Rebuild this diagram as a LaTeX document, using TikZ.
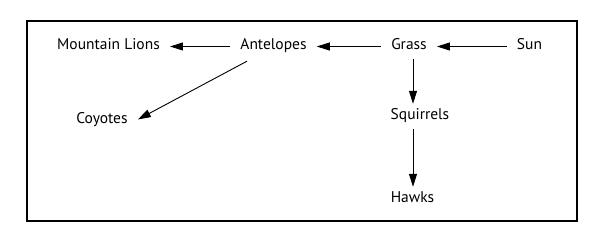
\documentclass[tikz,border=0pt]{standalone}
\usepackage{fontspec}
\setmainfont{PT Sans}
\usetikzlibrary{arrows.meta}
\begin{document}
\begin{tikzpicture}[x=1pt,y=-1pt,
  lbl/.style={font=\fontsize{15.5}{18}\selectfont, anchor=base, inner xsep=10pt, inner ysep=6pt, text height=10pt, text depth=3pt},
  arr/.style={line width=0.9pt, -{Triangle[length=13pt,width=8pt]}},
  frame/.style={line width=1.6pt}]
\useasboundingbox (0,0) rectangle (600,251);
\draw[frame] (27,21) rectangle (577,221);
\node[lbl] (ml) at (108.5,50) {Mountain Lions};
\node[lbl] (ant) at (273.5,50) {Antelopes};
\node[lbl] (grass) at (409,50) {Grass};
\node[lbl] (sun) at (529.5,50) {Sun};
\node[lbl] (sq) at (420,120) {Squirrels};
\node[lbl] (hawks) at (412.5,203) {Hawks};
\node[lbl] (coy) at (102,124) {Coyotes};
\draw[arr] (sun) -- (grass);
\draw[arr] (grass) -- (ant);
\draw[arr] (ant) -- (ml);
\draw[arr] ([xshift=4pt]grass.south) -- ([xshift=-7pt]sq.north);
\draw[arr] ([xshift=-7pt]sq.south) -- ([xshift=0.5pt]hawks.north);
\draw[arr] ([xshift=-26.5pt,yshift=-2pt]ant.south) -- ([yshift=1pt]coy.east);
\end{tikzpicture}
\end{document}
